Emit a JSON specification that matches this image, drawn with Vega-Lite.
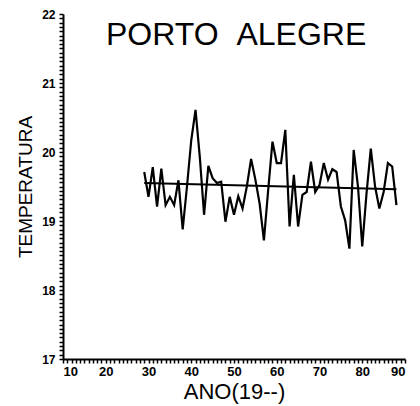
{
  "$schema": "https://vega.github.io/schema/vega-lite/v6.json",
  "width": 342,
  "height": 345,
  "autosize": {"type": "none"},
  "padding": {"left": 63, "top": 14, "right": 15, "bottom": 47},
  "background": "white",
  "config": {
    "view": {"stroke": null},
    "axis": {
      "grid": false,
      "domainColor": "black",
      "domainWidth": 2,
      "tickColor": "black",
      "tickWidth": 1.5,
      "labelFont": "Liberation Sans",
      "labelFontWeight": "bold",
      "labelFontSize": 12,
      "labelColor": "black",
      "titleColor": "black",
      "titleFont": "Liberation Sans",
      "titleFontWeight": "normal"
    }
  },
  "datasets": {
    "series": [
      {"ano": 29, "temp": 19.71}, {"ano": 30, "temp": 19.35}, {"ano": 31, "temp": 19.78}, {"ano": 32, "temp": 19.21},
      {"ano": 33, "temp": 19.76}, {"ano": 34, "temp": 19.23}, {"ano": 35, "temp": 19.35}, {"ano": 36, "temp": 19.23},
      {"ano": 37, "temp": 19.59}, {"ano": 38, "temp": 18.88}, {"ano": 39, "temp": 19.5}, {"ano": 40, "temp": 20.17},
      {"ano": 41, "temp": 20.61}, {"ano": 42, "temp": 19.93}, {"ano": 43, "temp": 19.09}, {"ano": 44, "temp": 19.8},
      {"ano": 45, "temp": 19.62}, {"ano": 46, "temp": 19.55}, {"ano": 47, "temp": 19.57}, {"ano": 48, "temp": 18.99},
      {"ano": 49, "temp": 19.35}, {"ano": 50, "temp": 19.09}, {"ano": 51, "temp": 19.36}, {"ano": 52, "temp": 19.18},
      {"ano": 53, "temp": 19.5}, {"ano": 54, "temp": 19.9}, {"ano": 55, "temp": 19.6}, {"ano": 56, "temp": 19.25},
      {"ano": 57, "temp": 18.72}, {"ano": 58, "temp": 19.45}, {"ano": 59, "temp": 20.15}, {"ano": 60, "temp": 19.84},
      {"ano": 61, "temp": 19.84}, {"ano": 62, "temp": 20.32}, {"ano": 63, "temp": 18.92}, {"ano": 64, "temp": 19.67},
      {"ano": 65, "temp": 18.92}, {"ano": 66, "temp": 19.38}, {"ano": 67, "temp": 19.42}, {"ano": 68, "temp": 19.86},
      {"ano": 69, "temp": 19.42}, {"ano": 70, "temp": 19.52}, {"ano": 71, "temp": 19.84}, {"ano": 72, "temp": 19.6},
      {"ano": 73, "temp": 19.75}, {"ano": 74, "temp": 19.71}, {"ano": 75, "temp": 19.21}, {"ano": 76, "temp": 19.01},
      {"ano": 77, "temp": 18.6}, {"ano": 78, "temp": 20.03}, {"ano": 79, "temp": 19.5}, {"ano": 80, "temp": 18.63},
      {"ano": 81, "temp": 19.4}, {"ano": 82, "temp": 20.05}, {"ano": 83, "temp": 19.5}, {"ano": 84, "temp": 19.18},
      {"ano": 85, "temp": 19.42}, {"ano": 86, "temp": 19.84}, {"ano": 87, "temp": 19.79}, {"ano": 88, "temp": 19.23}
    ],
    "trend": [
      {"ano": 29, "temp": 19.55},
      {"ano": 88, "temp": 19.46}
    ],
    "titulo": [
      {"ano": 50.5, "temp": 21.55, "texto": "PORTO \u00a0ALEGRE"}
    ]
  },
  "encoding": {
    "x": {
      "field": "ano",
      "type": "quantitative",
      "scale": {"domain": [10, 90], "nice": false, "zero": false},
      "axis": {
        "values": [10,11,12,13,14,15,16,17,18,19,20,21,22,23,24,25,26,27,28,29,30,31,32,33,34,35,36,37,38,39,40,41,42,43,44,45,46,47,48,49,50,51,52,53,54,55,56,57,58,59,60,61,62,63,64,65,66,67,68,69,70,71,72,73,74,75,76,77,78,79,80,81,82,83,84,85,86,87,88,89,90],
        "labelExpr": "datum.value % 10 === 0 ? format(datum.value, 'd') : ''",
        "tickSize": 4,
        "labelPadding": 2,
        "labelFontSize": 13,
        "title": "ANO(19--)",
        "titleFontSize": 22,
        "titlePadding": 3
      }
    },
    "y": {
      "field": "temp",
      "type": "quantitative",
      "scale": {"domain": [17, 22], "nice": false, "zero": false},
      "axis": {
        "values": [17,17.0625,17.125,17.1875,17.25,17.3125,17.375,17.4375,17.5,17.5625,17.625,17.6875,17.75,17.8125,17.875,17.9375,18,18.0625,18.125,18.1875,18.25,18.3125,18.375,18.4375,18.5,18.5625,18.625,18.6875,18.75,18.8125,18.875,18.9375,19,19.0625,19.125,19.1875,19.25,19.3125,19.375,19.4375,19.5,19.5625,19.625,19.6875,19.75,19.8125,19.875,19.9375,20,20.0625,20.125,20.1875,20.25,20.3125,20.375,20.4375,20.5,20.5625,20.625,20.6875,20.75,20.8125,20.875,20.9375,21,21.0625,21.125,21.1875,21.25,21.3125,21.375,21.4375,21.5,21.5625,21.625,21.6875,21.75,21.8125,21.875,21.9375,22],
        "labelExpr": "datum.value % 1 === 0 ? format(datum.value, 'd') : ''",
        "tickSize": 4,
        "labelPadding": 4,
        "title": "TEMPERATURA",
        "titleFontSize": 19,
        "titlePadding": 6
      }
    }
  },
  "layer": [
    {
      "data": {"name": "series"},
      "mark": {"type": "line", "color": "black", "strokeWidth": 2.2}
    },
    {
      "data": {"name": "trend"},
      "mark": {"type": "line", "color": "black", "strokeWidth": 2}
    },
    {
      "data": {"name": "titulo"},
      "mark": {"type": "text", "font": "Liberation Sans", "fontSize": 32, "baseline": "alphabetic", "align": "center", "color": "black"},
      "encoding": {
        "text": {"field": "texto", "type": "nominal"}
      }
    }
  ]
}
